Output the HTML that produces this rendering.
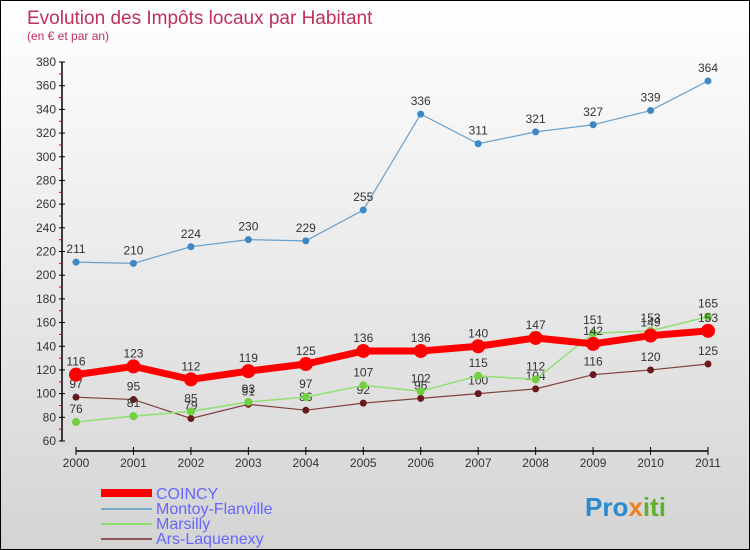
<!DOCTYPE html>
<html><head><meta charset="utf-8"><style>
body{margin:0}
#c{width:748px;height:548px;border:1px solid #000;background:linear-gradient(#fff,#d4d4d4);position:relative;font-family:"Liberation Sans",sans-serif;overflow:hidden}
</style></head><body>
<div id="c">
<svg id="s" width="748" height="548" xmlns="http://www.w3.org/2000/svg">
<text x="26" y="23" font-size="19" fill="#c0305a">Evolution des Impôts locaux par Habitant</text>
<text x="26" y="39" font-size="12" fill="#c0305a">(en € et par an)</text>
<g id="axes"></g><g id="series"></g>
<g>
<rect x="100" y="488" width="51" height="8" fill="#f00"/>
<text x="155" y="498" font-size="16" fill="#6666ff">COINCY</text>
<line x1="100" y1="508" x2="151" y2="508" stroke="#7aaac8" stroke-width="2"/>
<text x="155" y="513" font-size="16" fill="#6666ff">Montoy-Flanville</text>
<line x1="100" y1="523" x2="151" y2="523" stroke="#90e070" stroke-width="2"/>
<text x="155" y="528" font-size="16" fill="#6666ff">Marsilly</text>
<line x1="100" y1="538" x2="151" y2="538" stroke="#905858" stroke-width="2"/>
<text x="155" y="543" font-size="16" fill="#6666ff">Ars-Laquenexy</text>
</g>
<text x="584" y="515" font-size="26" font-weight="bold" fill="#2a8ad0">Pro<tspan fill="#f08020">x</tspan><tspan fill="#60b030">iti</tspan></text>
</svg></div>
<script>
const years=["2000","2001","2002","2003","2004","2005","2006","2007","2008","2009","2010","2011"];
const yTicks=[60,80,100,120,140,160,180,200,220,240,260,280,300,320,340,360,380];
const coincy=[116,123,112,119,125,136,136,140,147,142,149,153];
const montoy=[211,210,224,230,229,255,336,311,321,327,339,364];
const marsilly=[76,81,85,93,97,107,102,115,112,151,153,165];
const ars=[97,95,79,91,86,92,96,100,104,116,120,125];
const NS="http://www.w3.org/2000/svg";
const X=i=>75+i*(707-75)/11;
const Y=v=>440-(v-60)*(379/320);
function mk(t,a,p){const e=document.createElementNS(NS,t);for(const k in a)e.setAttribute(k,a[k]);p.appendChild(e);return e;}
const ax=document.getElementById('axes');
let l=mk('line',{x1:61,y1:Y(380),x2:61,y2:Y(60),stroke:'#000','stroke-width':1.5},ax);


yTicks.forEach((v,i)=>{
 const y=Y(v);
 mk('line',{x1:58,y1:y,x2:64,y2:y,stroke:'#000'},ax);
 if(i<yTicks.length-1)mk('line',{x1:58,y1:y-11.8,x2:61,y2:y-11.8,stroke:'#e00'},ax);
 const t=mk('text',{x:55,y:y+4,'font-size':12,fill:'#333','text-anchor':'end'},ax);t.textContent=v;
 
 
});
l=mk('line',{x1:75,y1:450,x2:707,y2:450,stroke:'#000','stroke-width':1.5},ax);


years.forEach((yr,i)=>{
 mk('line',{x1:X(i),y1:446,x2:X(i),y2:454,stroke:'#000'},ax);
 const t=mk('text',{x:X(i),y:466,'font-size':12,fill:'#333','text-anchor':'middle'},ax);t.textContent=yr;
 
 
});
const sg=document.getElementById('series');
function series(name,data,color,w,r,dot){
 const g=mk('g',{},sg);
 
 
 const p=mk('polyline',{points:data.map((v,i)=>X(i)+','+Y(v)).join(' '),fill:'none',stroke:color,'stroke-width':w},g);
 
 
 data.forEach((v,i)=>{
  const c=mk('circle',{cx:X(i),cy:Y(v),r:r,fill:dot},g);
  
  
  const t=mk('text',{x:X(i),y:Y(v)-9,'font-size':12,fill:'#333','text-anchor':'middle'},g);t.textContent=v;
  
  
 });
}
series('montoy',montoy,'#6aa0cc',1.2,3.5,'#3a88c8');
series('ars',ars,'#804040',1.2,3.5,'#6a1a1a');
series('marsilly',marsilly,'#90e070',1.5,4,'#70d040');
series('coincy',coincy,'#f00',7,7,'#f00');
</script>
</body></html>
